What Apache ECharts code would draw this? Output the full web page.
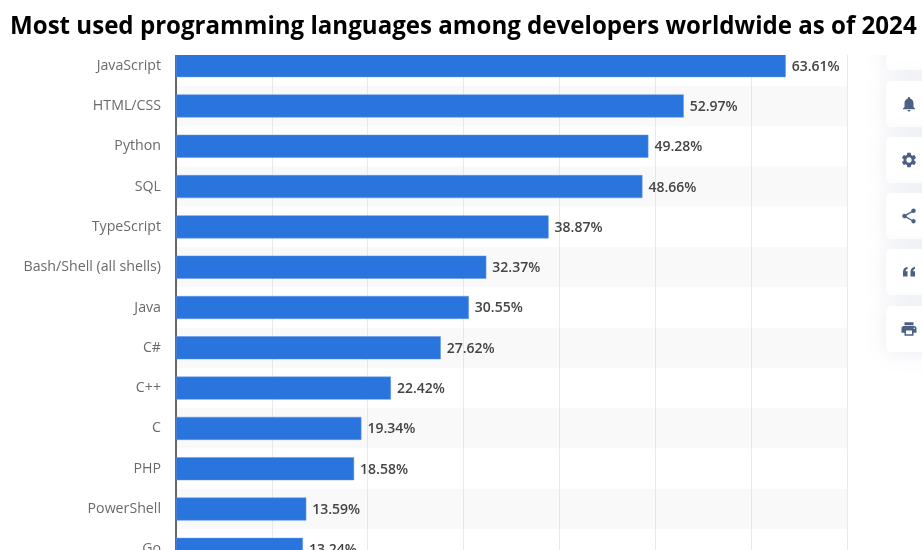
<!DOCTYPE html>
<html>
<head>
<meta charset="utf-8">
<style>
html, body { margin: 0; padding: 0; background: #fff; }
#chart { width: 922px; height: 550px; overflow: hidden; }
</style>
<script src="https://cdn.jsdelivr.net/npm/echarts@6/dist/echarts.min.js"></script>
</head>
<body>
<div id="chart"></div>
<script>
const titleText = 'Most used programming languages among developers worldwide as of 2024'
const languages = ['JavaScript', 'HTML/CSS', 'Python', 'SQL', 'TypeScript', 'Bash/Shell (all shells)', 'Java', 'C#', 'C++', 'C', 'PHP', 'PowerShell', 'Go']
const shares = [63.61, 52.97, 49.28, 48.66, 38.87, 32.37, 30.55, 27.62, 22.42, 19.34, 18.58, 13.59, 13.24]

// side toolbar icons (24x24 paths)
const icons = [
    '',
    'M12 22c1.1 0 2-.9 2-2h-4c0 1.1.9 2 2 2zm6-6v-5c0-3.07-1.63-5.64-4.5-6.32V4c0-.83-.67-1.5-1.5-1.5s-1.5.67-1.5 1.5v.68C7.64 5.36 6 7.92 6 11v5l-2 2v1h16v-1l-2-2z',
    'M19.14 12.94c.04-.3.06-.61.06-.94 0-.32-.02-.64-.07-.94l2.03-1.58c.18-.14.23-.41.12-.61l-1.92-3.32c-.12-.22-.37-.29-.59-.22l-2.39.96c-.5-.38-1.03-.7-1.62-.94l-.36-2.54c-.04-.24-.24-.41-.48-.41h-3.84c-.24 0-.43.17-.47.41l-.36 2.54c-.59.24-1.13.57-1.62.94l-2.39-.96c-.22-.08-.47 0-.59.22L2.74 8.87c-.12.21-.08.47.12.61l2.03 1.58c-.05.3-.09.63-.09.94s.02.64.07.94l-2.03 1.58c-.18.14-.23.41-.12.61l1.92 3.32c.12.22.37.29.59.22l2.39-.96c.5.38 1.03.7 1.62.94l.36 2.54c.05.24.24.41.48.41h3.84c.24 0 .44-.17.47-.41l.36-2.54c.59-.24 1.13-.56 1.62-.94l2.39.96c.22.08.47 0 .59-.22l1.92-3.32c.12-.22.07-.47-.12-.61l-2.01-1.58zM12 15.6c-1.98 0-3.6-1.62-3.6-3.6s1.62-3.6 3.6-3.6 3.6 1.62 3.6 3.6-1.62 3.6-3.6 3.6z',
    'M18 16.08c-.76 0-1.44.3-1.96.77L8.91 12.7c.05-.23.09-.46.09-.7s-.04-.47-.09-.7l7.05-4.11c.54.5 1.25.81 2.04.81 1.66 0 3-1.34 3-3s-1.34-3-3-3-3 1.34-3 3c0 .24.04.47.09.7L8.04 9.81C7.5 9.31 6.79 9 6 9c-1.66 0-3 1.34-3 3s1.34 3 3 3c.79 0 1.5-.31 2.04-.81l7.12 4.16c-.05.21-.08.43-.08.65 0 1.61 1.31 2.92 2.92 2.92s2.92-1.31 2.92-2.92-1.31-2.92-2.92-2.92z',
    'M4 18v-6c0-4 2-6 6-7v3c-2 .5-2.5 1.5-2.5 3H10v7zM14 18v-6c0-4 2-6 6-7v3c-2 .5-2.5 1.5-2.5 3H20v7z',
    'M19 8H5c-1.66 0-3 1.34-3 3v6h4v4h12v-4h4v-6c0-1.66-1.34-3-3-3zm-3 11H8v-5h8v5zm3-7c-.55 0-1-.45-1-1s.45-1 1-1 1 .45 1 1-.45 1-1 1zm-1-9H6v4h12V3z'
]
const cardTops = [24, 81, 137, 193, 249, 306]

let toolbar = []
for (let i = 0; i < cardTops.length; i++) {
    toolbar.push({
        type: 'rect',
        z: 3,
        shape: { x: 886, y: cardTops[i], width: 60, height: 46, r: 5 },
        style: { fill: '#fff', shadowColor: 'rgba(90,110,150,0.13)', shadowBlur: 22 }
    })
    if (icons[i]) {
        // graphic has no plain path type, so register each icon as a shape
        echarts.graphic.registerShape('icon' + i, echarts.graphic.extendPath(icons[i], {}))
        toolbar.push({
            type: 'icon' + i,
            z: 4,
            x: 900,
            y: cardTops[i] + 14,
            scaleX: 18 / 24,
            scaleY: 18 / 24,
            style: { fill: '#4a6184' }
        })
    }
}

// the screenshot is cropped, white strip hides the top of the chart
const topMask = {
    type: 'rect',
    z: 5,
    shape: { x: 0, y: 0, width: 922, height: 55 },
    style: { fill: '#fff' }
}

var chart = echarts.init(document.getElementById('chart'), null, { renderer: 'canvas' })
chart.setOption({
    animation: false,
    backgroundColor: '#fff',
    title: {
        text: titleText,
        left: 5,
        top: 10,
        z: 6,
        textStyle: { fontFamily: 'Open Sans', fontWeight: 700, fontSize: 24.1, color: '#000' }
    },
    // grid runs past the bottom edge, Go is cut off like in the screenshot
    grid: { left: 176, top: 45.5, width: 671, height: 524, outerBoundsMode: 'none' },
    xAxis: {
        type: 'value',
        min: 0,
        max: 70,
        interval: 10,
        axisLabel: { show: false },
        axisLine: { show: false },
        axisTick: { show: false },
        splitLine: { lineStyle: { color: '#d4d4d4', type: 'dotted', width: 1 } }
    },
    yAxis: {
        type: 'category',
        inverse: true,
        data: languages,
        axisTick: { show: false },
        axisLine: { lineStyle: { color: '#666', width: 2 } },
        axisLabel: { margin: 15, padding: [2, 0, 0, 0], fontFamily: 'Open Sans', fontSize: 14.2, color: '#6a6a6a' },
        splitArea: { show: true, areaStyle: { color: ['#fff', '#f9f9fa'] } }
    },
    series: [
        {
            type: 'bar',
            data: shares,
            barWidth: 23,
            itemStyle: { color: '#2a74dd', borderColor: '#5f97e6', borderWidth: 0.5 },
            label: {
                show: true,
                position: 'right',
                distance: 6,
                offset: [0, 1],
                formatter: (p) => p.value.toFixed(2) + '%',
                fontFamily: 'Open Sans',
                fontWeight: 600,
                fontSize: 14,
                color: '#444'
            }
        }
    ],
    graphic: { elements: toolbar.concat([topMask]) }
})
</script>
</body>
</html>
